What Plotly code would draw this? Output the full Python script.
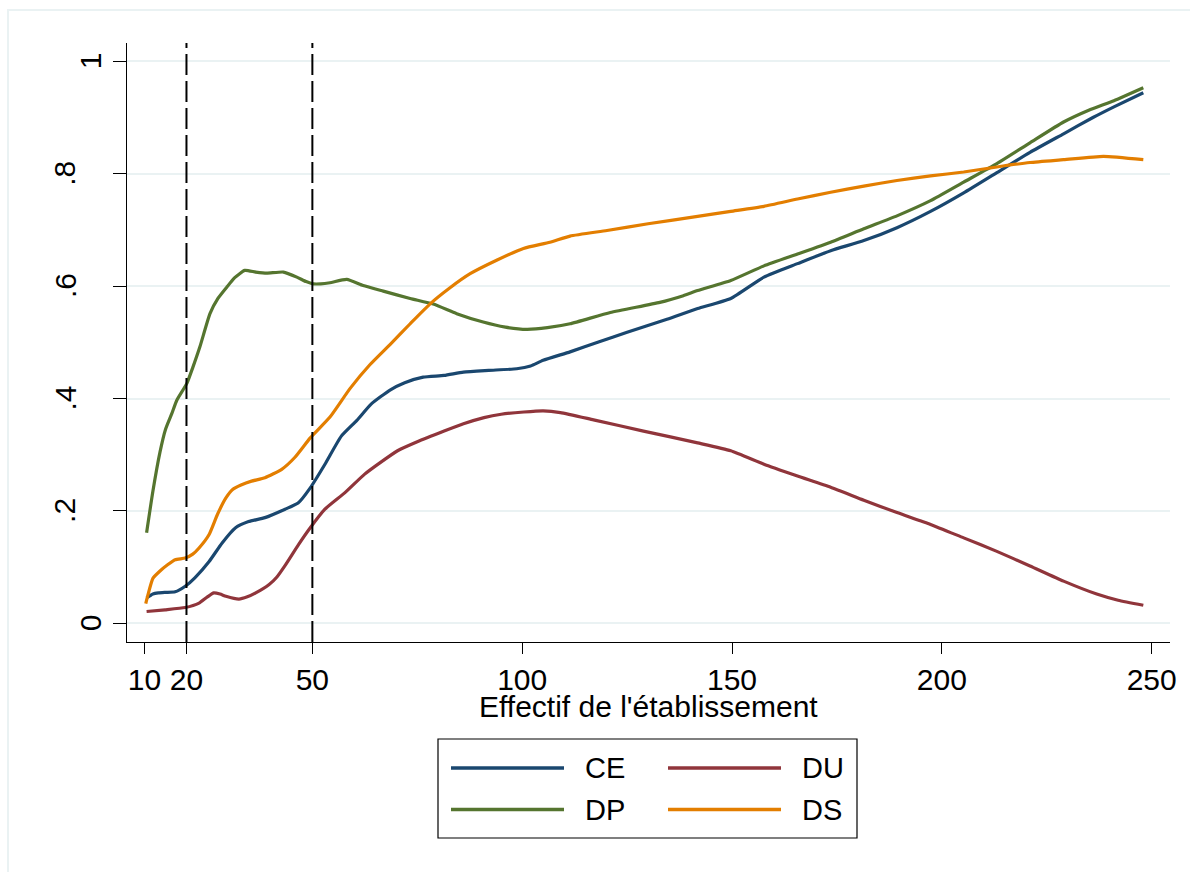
import plotly.graph_objects as go

# ---------------- data ----------------
ce_x = [10.5, 12, 13.3, 15, 17.3, 19.7, 22, 25.4, 28.5, 31.7, 34.8, 38.7, 43.5, 46.6, 49.5, 53, 56.9, 60.6, 64,
        68.5, 72, 76.4, 81.4, 86, 92, 98.7, 102, 105, 111.4, 118, 125, 134.5, 141.8, 149.7, 157.6, 165.6, 173.5,
        181.4, 189.3, 197.3, 205.2, 213.1, 221, 229, 236, 241, 248]
ce_y = [0.045, 0.052, 0.054, 0.055, 0.056, 0.066, 0.081, 0.11, 0.143, 0.17, 0.181, 0.188, 0.203, 0.214, 0.241,
        0.283, 0.333, 0.361, 0.39, 0.415, 0.428, 0.438, 0.441, 0.447, 0.45, 0.453, 0.458, 0.468, 0.483, 0.5,
        0.518, 0.541, 0.56, 0.578, 0.616, 0.64, 0.663, 0.681, 0.704, 0.733, 0.766, 0.802, 0.838, 0.871, 0.9,
        0.919, 0.944]

dp_x = [10.5, 12, 13.7, 15, 16.5, 17.7, 20.1, 21.5, 23.2, 25.6, 27.5, 29.6, 31.5, 33.9, 36.5, 39.1, 43.1, 46.3,
        48.5, 50.2, 52, 54.2, 58.2, 62.1, 66.9, 73.3, 78.8, 84.4, 90.7, 96, 101.1, 106, 111.4, 121, 132.8, 138.4,
        141.8, 149.7, 157.6, 165.6, 173.5, 181.4, 189.3, 197.3, 205.2, 213.1, 221, 229, 235, 241, 248]
dp_y = [0.161, 0.235, 0.305, 0.345, 0.373, 0.397, 0.427, 0.455, 0.492, 0.551, 0.578, 0.598, 0.615, 0.628, 0.625,
        0.623, 0.625, 0.616, 0.608, 0.604, 0.604, 0.606, 0.612, 0.601, 0.591, 0.578, 0.568, 0.551, 0.536, 0.527,
        0.523, 0.526, 0.533, 0.553, 0.571, 0.583, 0.592, 0.61, 0.636, 0.657, 0.678, 0.702, 0.725, 0.752, 0.785,
        0.818, 0.855, 0.892, 0.913, 0.93, 0.953]

ds_x = [10.3, 10.8, 12, 13.7, 15.5, 17.3, 19.7, 21.5, 23, 25.4, 27.4, 29.4, 31, 33, 35.5, 38.7, 42.7, 45.8, 49.5,
        54.2, 59, 63.7, 68.5, 73.3, 78, 82.8, 87.6, 93.9, 100.3, 106.6, 111.4, 120.2, 130, 141.8, 149.7, 157.6,
        165.6, 173.5, 181.4, 189.3, 197.3, 205.2, 213.1, 221, 229, 238.5, 248]
ds_y = [0.035, 0.05, 0.08, 0.093, 0.104, 0.113, 0.116, 0.123, 0.134, 0.158, 0.194, 0.223, 0.238, 0.246, 0.253,
        0.259, 0.274, 0.295, 0.33, 0.367, 0.418, 0.46, 0.496, 0.533, 0.568, 0.597, 0.622, 0.646, 0.667, 0.678,
        0.689, 0.699, 0.711, 0.724, 0.733, 0.742, 0.755, 0.767, 0.778, 0.788, 0.796, 0.803, 0.812, 0.82, 0.825,
        0.831, 0.825]

du_x = [10.5, 14.9, 19.7, 23, 25, 26.5, 28, 29.4, 32.5, 34.5, 36.5, 39.7, 41.5, 43.6, 46.7, 49.5, 53, 57.7, 62.4,
        66, 70.3, 75, 81.4, 86, 90.9, 95, 100.4, 105, 109.1, 117, 128.9, 141.8, 149.7, 157.6, 165.6, 173.5,
        181.4, 189.3, 197.3, 205.2, 213.1, 221, 229, 236.9, 242, 248]
du_y = [0.021, 0.024, 0.028, 0.036, 0.047, 0.054, 0.052, 0.048, 0.043, 0.047, 0.054, 0.069, 0.082, 0.104, 0.14,
        0.17, 0.203, 0.232, 0.265, 0.285, 0.307, 0.323, 0.342, 0.355, 0.366, 0.372, 0.376, 0.378, 0.375, 0.362,
        0.342, 0.321, 0.307, 0.283, 0.262, 0.242, 0.219, 0.197, 0.176, 0.152, 0.128, 0.102, 0.075, 0.052, 0.041,
        0.032]

series_names = ["CE", "DP", "DU", "DS"]
ref_lines = [20, 50]
x_ticks = [10, 20, 50, 100, 150, 200, 250]
x_tick_labels = ["10", "20", "50", "100", "150", "200", "250"]
y_ticks = [0, 0.2, 0.4, 0.6, 0.8, 1]
y_tick_labels = ["0", ".2", ".4", ".6", ".8", "1"]
x_title = "Effectif de l'établissement"

# ---------------- style ----------------
colors = {"CE": "#1a476f", "DP": "#55752f", "DU": "#90353b", "DS": "#e37e00"}
FONT = "Liberation Sans, Arial, Helvetica, sans-serif"
W, H = 1190, 872
L, R, T, B = 127, 1170, 43, 642


def pxx(px):
    return (px - L) / (R - L)


def pxy(py):
    return (B - py) / (B - T)


data = {"CE": (ce_x, ce_y), "DP": (dp_x, dp_y), "DU": (du_x, du_y), "DS": (ds_x, ds_y)}

fig = go.Figure()
for name in ["CE", "DU", "DP", "DS"]:
    xs, ys = data[name]
    fig.add_trace(go.Scatter(x=xs, y=ys, mode="lines", name=name,
                             line=dict(color=colors[name], width=3.2, shape="spline", smoothing=0.5),
                             showlegend=False))

shapes = []
# outer graph-region frame
shapes.append(dict(type="rect", xref="paper", yref="paper", x0=pxx(8), x1=pxx(1200), y0=pxy(885), y1=pxy(10),
                   line=dict(color="#eaf2f3", width=2), layer="below"))
# reference vertical lines
for xv in ref_lines:
    shapes.append(dict(type="line", xref="x", yref="paper", x0=xv, x1=xv, y0=0, y1=1,
                       line=dict(color="black", width=2, dash="21px,6px"), layer="above"))

# manual legend
leg_rows = [(series_names[0], series_names[2]), (series_names[1], series_names[3])]
row_y = [768, 809.5]
col_line = [(451, 564), (668, 781)]
col_text = [583, 800]
shapes.append(dict(type="rect", xref="paper", yref="paper", x0=pxx(438), x1=pxx(857), y0=pxy(838), y1=pxy(739),
                   line=dict(color="black", width=1.2), fillcolor="white"))
annotations = []
for r, row in enumerate(leg_rows):
    for c, nm in enumerate(row):
        shapes.append(dict(type="line", xref="paper", yref="paper", x0=pxx(col_line[c][0]), x1=pxx(col_line[c][1]),
                           y0=pxy(row_y[r]), y1=pxy(row_y[r]), line=dict(color=colors[nm], width=3.3)))
        annotations.append(dict(text=nm, xref="paper", yref="paper", x=pxx(col_text[c]), y=pxy(row_y[r]),
                                xanchor="left", yanchor="middle", showarrow=False,
                                font=dict(family=FONT, size=29, color="black")))

# y tick labels (rotated, Stata style)
for v, lab in zip(y_ticks, y_tick_labels):
    cx = 90 if not lab.startswith(".") else 65
    annotations.append(dict(text=lab, xref="paper", yref="y", x=pxx(cx), y=v, xanchor="center", yanchor="middle",
                            textangle=-90, showarrow=False, font=dict(family=FONT, size=30, color="black")))

# x axis title
annotations.append(dict(text=x_title, xref="paper", yref="paper", x=0.5, y=pxy(706), xanchor="center",
                        yanchor="middle", showarrow=False, font=dict(family=FONT, size=30, color="black")))

fig.update_layout(
    width=W, height=H,
    margin=dict(l=L, r=W - R, t=T, b=H - B, autoexpand=False),
    paper_bgcolor="white", plot_bgcolor="white",
    shapes=shapes, annotations=annotations,
    xaxis=dict(range=[5.83, 254.36], tickvals=x_ticks, ticktext=x_tick_labels, ticks="outside", ticklen=11,
               tickwidth=1, tickcolor="black", showline=True, linecolor="black", linewidth=1, showgrid=False,
               zeroline=False, tickfont=dict(family=FONT, size=30, color="black")),
    yaxis=dict(range=[-0.0333, 1.0326], tickvals=y_ticks, ticks="outside", ticklen=13, tickwidth=1,
               tickcolor="black", showline=True, linecolor="black", linewidth=1, showgrid=True,
               gridcolor="#eaf2f3", gridwidth=2, zeroline=False, showticklabels=False),
)

fig.write_html("out.html")
